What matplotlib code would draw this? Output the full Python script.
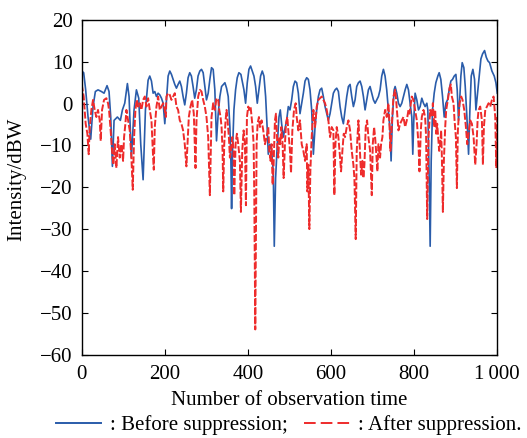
import matplotlib
matplotlib.use("Agg")
import matplotlib.pyplot as plt
from matplotlib.lines import Line2D
from matplotlib.ticker import FuncFormatter

# values (observation index, dBW) at peaks / troughs
before_x = [0, 4.8, 9.6, 15.3, 21.7, 27.3, 32.9, 39.3, 47.4, 53.8, 61, 65.8, 69.9, 73.9, 77.9,
            85.9, 93.1, 98, 103.6, 110, 114, 119.6, 126, 131.7, 137.3, 142.1, 147.8, 153.4,
            159.8, 163.8, 167.9, 171.9, 175.9, 179.9, 183.9, 187.9, 192, 196, 200, 204, 208,
            212, 216, 220, 224, 228, 232, 236, 240, 244, 248, 252, 256, 260, 264, 268, 272,
            276, 280, 284.3, 288.3, 292.3, 296.3, 300.3, 304.4, 308.4, 312.4, 316.4, 320.4,
            324.4, 328.4, 332.5, 336.6, 344.6, 348.6, 352.6, 356.6, 359, 360.7, 363, 366.3,
            370.3, 374.3, 378.3, 383.1, 386.3, 390.4, 394.4, 398.4, 402.4, 406.4, 410.4,
            414.5, 418.5, 422.5, 426.5, 430.5, 434.5, 438.5, 442.6, 446.6, 449, 453, 457,
            461, 463.4, 466.6, 470.7, 474.7, 477.9, 481.1, 485.1, 489.1, 493.2, 497.2, 501.2,
            505.3, 509.3, 513.3, 517.3, 521.3, 525.3, 529.4, 533.4, 537.4, 541.4, 545.4,
            549.4, 553.4, 557.5, 561.5, 565.5, 569.5, 573.5, 577.5, 581.5, 585.6, 589.6,
            593.6, 597.6, 601.6, 605.6, 609.7, 613.7, 617.7, 621.7, 625.7, 629.7, 633.7,
            637.8, 641.8, 645.8, 649.8, 653.8, 657.8, 661.8, 665.9, 669.9, 673.9, 677.9,
            681.9, 685.9, 689.9, 693.9, 698, 702, 706, 710, 714, 718, 722, 726, 730, 734,
            738, 742, 744.5, 747.7, 751.8, 754.2, 758.2, 762.2, 766.2, 770.2, 774.2, 778.3,
            782.3, 786.3, 790.3, 794.3, 796.7, 799.1, 802.3, 806.4, 810.4, 814.4, 818.4,
            822.4, 826.4, 830.5, 832.9, 836.1, 838.5, 841, 844.2, 848.2, 852.2, 857, 860.2,
            864.2, 868.3, 872.3, 876.3, 880.3, 884.3, 888.3, 892.3, 896.4, 900.4, 903.6,
            906.8, 909.2, 912.4, 915.6, 919.6, 922.9, 926.9, 930.9, 934.1, 937.3, 941.3,
            945.3, 948.6, 952.6, 956.6, 960.6, 964.6, 969.4, 973.5, 977.5, 981.5, 987.1,
            992.7, 996.7, 1000]
before_db = [7.8, 7.4, 3.3, -3.2, -8.5, -0.7, 2.9, 3.3, 2.9, 2.5, 4.3, 2.9, -3.2, -15.0, -4.0,
             -3.2, -4.0, -1.5, 0.1, 4.8, 1.7, -12.9, -1.5, 3.3, 1.3, -9.7, -18.2, -1.5,
             5.6, 6.6, 5.4, 2.5, 2.9, 1.7, 2.5, 2.1, 1.3, 0.1, -4.8, 0.9, 6.6,
             7.8, 7.0, 5.8, 4.6, 3.7, 4.6, 5.4, 4.1, 1.7, -0.3, 2.5, 6.2, 7.4, 6.6, 4.1, 1.3,
             3.3, 6.6, 7.8, 8.2, 7.4, 4.1, 0.9, 2.5, 5.8, 8.6, 8.2, 3.3,
             -8.9, -2.5, 1.7, 4.1, 5.0, 3.7, 1.7, -5.6, -13.7, -25.1, -11.3, -1.5,
             3.3, 6.2, 7.4, 7.0, 5.4, 3.3, 0.1, 5.0, 8.2, 9.0, 7.8,
             6.6, 4.1, 0.1, 3.3, 6.6, 7.8, 6.6, 1.7, -6.4, -12.1, -9.7, -11.3,
             -16.2, -34.1, -17.8, -9.7, -3.2, -1.5, -4.8, -8.0, -6.0, -4.0, -0.7, -1.5,
             0.9, 4.1, 5.4, 5.0, 2.5, -2.4, 0.1, 2.5, 5.4, 6.2, 5.8,
             3.3, -1.5, -12.1, -5.6, -1.5, 1.7, 3.3, 3.7, 1.7, -0.7, -2.4,
             -4.0, -2.4, 0.1, 2.5, 3.3, 3.7, 2.9, -0.7, -3.2, -4.8, -1.5,
             1.7, 4.1, 4.6, 1.7, -0.7, 0.9, 4.1, 5.0, 5.4, 4.1, 1.7,
             -1.5, 0.9, 3.3, 4.1, 2.5, 0.9, 0.1, 0.9, 1.7, 3.3, 6.6, 8.2, 6.6, 3.3,
             -1.5, -6.4, -13.7, -3.2, 3.3, 4.1, 2.5, 0.1, -0.7, 0.1, 1.7, 3.3,
             4.6, 3.3, 0.1, -3.2, -12.1, -4.0, 2.5, 0.9, -1.5, -0.7, 1.3,
             0.1, -0.7, 0.1, -1.5, -17.8, -34.1, -13.7, -1.5, 2.5, 5.0, 6.6, 7.4,
             5.8, 1.7, -3.2, 0.1, 0.9, 3.3, 5.4, 5.8, 6.6, 7.0, 3.3,
             -4.0, 0.1, 6.6, 9.8, 8.6, 4.1, -3.2, -12.1, -1.5, 6.6, 8.2,
             5.8, -1.5, 2.5, 6.6, 10.7, 11.9, 12.7, 11.1, 10.2, 9.8, 7.8,
             6.6, 5.0, 2.5]

after_x = [0, 4.8, 9.6, 13.7, 16.9, 19.3, 23.3, 27.3, 31.3, 35.3, 39.3, 43.4, 45.8, 49, 53.8,
           59.4, 63.4, 65.8, 69.1, 73.1, 76.3, 79.5, 83.5, 87.5, 91.5, 95.6, 99.6, 102,
           105.2, 107.6, 111.6, 115.6, 119.6, 122.9, 126.1, 129.3, 132.5, 135.7, 139.7,
           143.7, 147.8, 151.8, 155.8, 159.8, 163.8, 167.9, 171.9, 173.5, 175.9, 179.9,
           183.9, 187.9, 192, 196, 200, 202.4, 204, 208, 212, 216, 220, 224, 228, 232, 236,
           240, 244, 248, 252, 254.6, 257.8, 261.8, 265.8, 269.8, 273.9, 276.3, 280.3,
           284.3, 288.3, 292.3, 296.3, 300.3, 304.4, 308.4, 312.4, 316.4, 320.4, 324.4,
           328.5, 331, 334.2, 336.6, 339, 340.6, 343, 346.2, 348.6, 351, 354.2, 356.6, 359,
           362.3, 365.5, 367.1, 370.3, 373.5, 376.7, 380.7, 383.1, 386.3, 389.6, 392.8,
           395.2, 397.6, 400.8, 403.2, 406.4, 408.8, 411.2, 413.7, 415.3, 417.7, 420.9,
           423.3, 426.5, 428.9, 432.9, 436.9, 441, 445, 449, 451.4, 454.6, 457, 459.4,
           461.8, 465, 467.5, 470.7, 473.1, 475.5, 477.9, 480.3, 483.5, 485.9, 489.1,
           491.5, 494.8, 497.2, 501.2, 503.7, 506.9, 510.9, 514.9, 517.3, 521.3, 525.3,
           529.4, 533.4, 537.4, 541.4, 543, 545.4, 547.8, 550.2, 553.4, 557.5, 561.5,
           565.5, 569.5, 573.5, 577.5, 581.5, 585.6, 589.6, 593.6, 597.6, 601.6, 605.6,
           608, 610.5, 613.7, 617.7, 621.7, 624.1, 627.3, 630.5, 633.7, 637.8, 641.8,
           645.8, 649.8, 653.8, 656.2, 659.4, 661.8, 665.9, 669.8, 672.3, 675.5, 677.9,
           680.3, 683.5, 686.7, 689.9, 694, 698, 700.4, 703.6, 706, 708.4, 711.6, 714, 718,
           720.4, 723.6, 726, 730.1, 734.1, 738.1, 740.5, 742.9, 746.1, 750.1, 754.2,
           756.6, 759.8, 762.2, 766.2, 770.2, 774.2, 778.3, 782.3, 786.3, 788.7, 791.1,
           794.3, 798.3, 802.3, 806.4, 810.4, 812.8, 816, 818.4, 822.4, 826.4, 828.8,
           831.3, 834.5, 838.5, 842.6, 845, 848.2, 850.6, 853, 855.4, 857.8, 860.2, 862.6,
           865, 866.7, 869.1, 871.5, 874.7, 877.1, 881.1, 885.1, 888.3, 890.7, 894.8,
           897.2, 900.4, 902.8, 905.2, 909.2, 913.2, 916.4, 920.5, 924.5, 927.7, 930.9,
           934.9, 938.9, 943, 947, 950.2, 952.6, 955, 959, 963, 965.4, 967.8, 971.1, 975.1,
           979.1, 983.1, 987.1, 991.1, 995.1, 997.6, 1000]
after_db = [4.6, 1.7, -4.8, -7.2, -12.1, -5.6, -1.5, 0.9, -1.5, -3.2, -1.5, -4.0, -8.9, -1.5, 0.9,
            1.3, 0.1, -1.5, -5.6, -11.3, -14.6, -9.7, -15.4, -8.0, -12.9, -9.7, -13.7, -8.0,
            -4.8, -1.5, -4.0, -6.4, -12.9, -20.6, -8.0, -1.5, 0.9, -0.7, 0.1,
            -1.5, 0.9, 1.7, -0.7, 1.3, -1.5, -4.0, -12.9, -15.8, -5.6, -0.7,
            1.7, -1.5, -0.7, 0.1, -1.5, -3.2, 1.7, 2.5, 2.1, 0.9, 1.7, 2.5, -0.7, -1.5, -4.0,
            -4.8, -6.4, -9.7, -15.0, -9.7, -3.2, -0.7, 0.9, -2.4, -15.4, -4.0, 1.7,
            3.3, 2.9, 0.9, -0.7, -3.2, -8.0, -21.9, -3.2, 0.1, -1.5, 1.3,
            0.9, -1.5, -3.2, -5.6, -11.3, -21.0, -9.7, -4.0, -1.5, -4.0, -8.0, -12.9, -11.3,
            -8.0, -11.3, -21.9, -9.7, -7.2, -9.7, -13.7, -25.9, -11.3, -6.4, -9.7,
            -24.3, -3.2, -0.7, -1.5, -0.7, -3.2, -5.6, -9.7, -21.9, -54.0, -9.7,
            -4.8, -3.2, -5.6, -4.0, -6.4, -9.7, -8.0, -5.6, -11.3, -13.7, -9.7, -19.4,
            -14.6, -4.0, -2.4, -9.7, -12.9, -8.0, -9.7, -5.6, -9.7, -17.8, -9.7,
            -4.8, -3.2, -6.4, -11.3, -16.6, -6.4, -1.5, 0.1, -3.2, -6.4, -4.0,
            -9.7, -11.3, -13.7, -9.7, -21.0, -14.6, -30.0, -16.2, -8.0, -1.5, -5.6,
            -0.7, 0.9, 1.3, 1.7, 0.9, 0.1, -1.5, -4.0, -8.0, -5.6, -6.4,
            -21.9, -9.7, -5.6, -8.0, -12.9, -16.2, -11.3, -7.2, -8.0, -5.6, -4.0,
            -6.4, -11.3, -14.6, -17.8, -32.4, -11.3, -4.0, -12.1, -17.0, -13.7, -17.8,
            -14.6, -5.6, -4.0, -8.0, -11.3, -21.9, -9.7, -5.6, -8.0, -11.3, -16.2, -9.7, -12.9,
            -9.7, -8.0, -4.0, -1.5, -3.2, 0.1, -4.8, -11.3, -5.6, 1.7, 3.3,
            0.9, -3.2, -6.4, -4.8, -4.0, -3.2, -5.6, -4.0, -1.5, -2.4, -0.7,
            1.7, 0.9, -1.5, -4.0, -9.7, -16.2, -6.4, -3.2, -1.5, -3.2, -8.0,
            -27.6, -8.0, -1.5, -3.2, 0.1, -5.6, -1.5, -7.2, -4.8, -8.0, -11.3, -9.7,
            -6.4, -12.9, -25.9, -13.7, -5.6, -1.5, 0.9, 3.7, 4.6, 1.7, 0.1,
            -4.0, -8.0, -20.2, -6.4, 0.1, 1.7, 0.9, -1.5, -5.6, -9.7, -7.2,
            -4.0, -4.8, -8.0, -14.6, -9.7, -4.0, -1.5, -0.7, -4.0, -14.6, -5.6, -1.5, -0.7,
            0.1, -0.7, 0.9, 1.7, -3.2, -15.4, -3.2]

BLUE = "#2a5caa"
RED = "#ee2b2b"
FS = 15

plt.rcParams["font.family"] = ["Liberation Serif", "DejaVu Serif"]
plt.rcParams["font.size"] = FS

fig = plt.figure(figsize=(5.27, 4.38), dpi=100)
ax = fig.add_axes([0.155, 0.1906, 0.7886, 0.7637])

ax.plot(before_x, before_db, color=BLUE, lw=1.2)
ax.plot(after_x, after_db, color=RED, lw=1.4, ls=(0, (3.6, 1.1)))

ax.set_xlim(0, 1000)
ax.set_ylim(-60, 20)
ax.set_xticks(range(0, 1001, 200))
ax.set_yticks(range(-60, 21, 10))
ax.xaxis.set_major_formatter(FuncFormatter(lambda v, p: "1\u2009000" if v == 1000 else f"{v:.0f}"))
ax.tick_params(direction="in", top=True, right=True, length=4, width=0.8, labelsize=FS)
ax.tick_params(axis="x", pad=7.6)
ax.tick_params(axis="y", pad=6.3)
for s in ax.spines.values():
    s.set_linewidth(1.0)
ax.set_xlabel("Number of observation time", fontsize=FS)
ax.set_ylabel("Intensity/dBW", fontsize=FS)
ax.xaxis.set_label_coords(0.5, -0.109)
ax.yaxis.set_label_coords(-0.134, 0.524)

handles = [Line2D([], [], color=BLUE, lw=1.4),
           Line2D([], [], color=RED, lw=1.4, ls=(0, (6, 2.6)))]
fig.legend(handles, [": Before suppression;", ": After suppression."],
           loc="center", bbox_to_anchor=(0.548, 0.0285), ncol=2, frameon=False,
           fontsize=FS, handlelength=2.19, handletextpad=0.4, columnspacing=0.8,
           borderpad=0.0, borderaxespad=0.0)

fig.savefig("out.png", dpi=100)
